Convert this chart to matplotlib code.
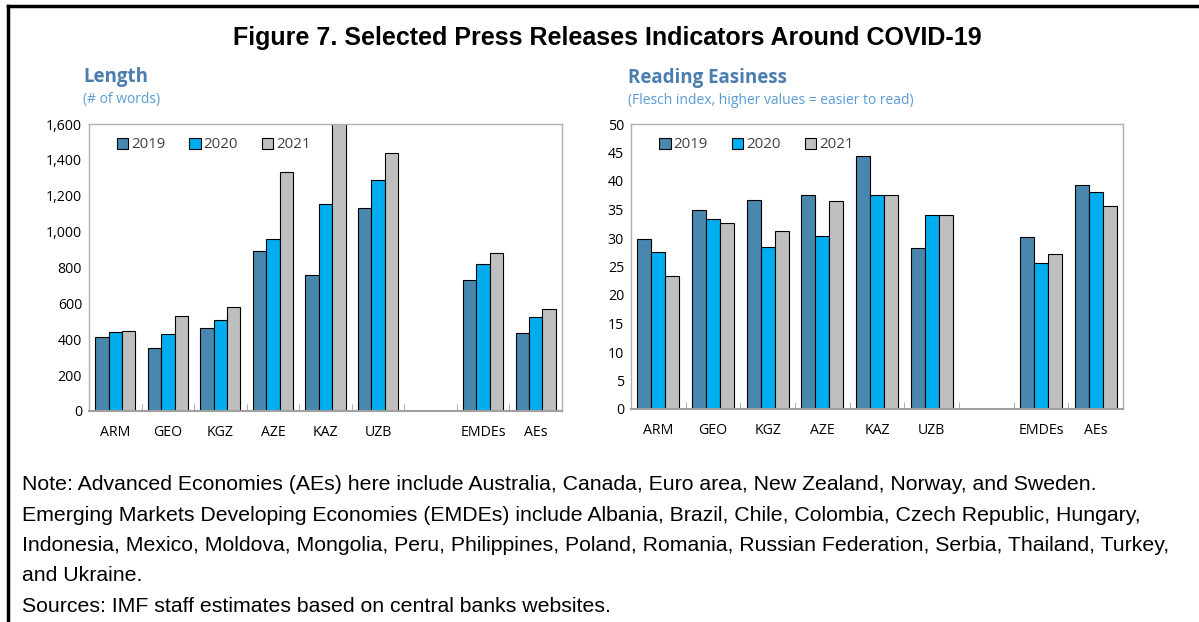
import numpy as np
import matplotlib.pyplot as plt
from matplotlib.lines import Line2D
from matplotlib.ticker import FuncFormatter

# data
categories = ['ARM', 'GEO', 'KGZ', 'AZE', 'KAZ', 'UZB', '', 'EMDEs', 'AEs']
years = ['2019', '2020', '2021']

length_2019 = [412, 351, 460, 894, 757, 1130, np.nan, 732, 434]
length_2020 = [441, 430, 507, 957, 1152, 1289, np.nan, 817, 524]
length_2021 = [445, 529, 579, 1333, 1603, 1436, np.nan, 882, 569]

easiness_2019 = [29.9, 34.9, 36.6, 37.6, 44.3, 28.3, np.nan, 30.2, 39.3]
easiness_2020 = [27.5, 33.4, 28.4, 30.3, 37.6, 34.1, np.nan, 25.7, 38.0]
easiness_2021 = [23.4, 32.6, 31.3, 36.5, 37.5, 34.1, np.nan, 27.2, 35.6]

colors = ['#4A87AE', '#00AEEF', '#BFBFBF']
title_blue = '#4A7EAE'
sub_blue = '#5B9BD5'
chart_font = 'Open Sans'

fig = plt.figure(figsize=(11.99, 6.22), dpi=100)
W, H = 1199, 622


def box(x0, y0, x1, y1):
    # pixel box -> figure fraction
    return [x0 / W, 1 - y1 / H, (x1 - x0) / W, (y1 - y0) / H]


def draw_panel(ax, series, ymax, ystep, fmt):
    x = np.arange(len(categories))
    w = 0.255
    for i, vals in enumerate(series):
        ax.bar(x + (i - 1) * w, vals, w, color=colors[i], edgecolor='black',
               linewidth=0.8, label=years[i], zorder=2)
    ax.set_xlim(-0.5, len(categories) - 0.5)
    ax.set_ylim(0, ymax)
    ax.set_yticks(np.arange(0, ymax + 1, ystep))
    ax.yaxis.set_major_formatter(FuncFormatter(fmt))
    ax.set_xticks(x)
    ax.set_xticklabels(categories)
    ax.set_xticks(np.arange(len(categories) + 1) - 0.5, minor=True)
    ax.tick_params(axis='x', which='major', length=0, pad=10)
    ax.tick_params(axis='x', which='minor', length=5, direction='in',
                   color='#A0A0A0')
    ax.tick_params(axis='y', length=0, pad=5)
    for lab in ax.get_xticklabels() + ax.get_yticklabels():
        lab.set_fontfamily(chart_font)
        lab.set_fontsize(10.2)
    for s in ax.spines.values():
        s.set_color('#B0B0B0')
        s.set_linewidth(1.0)
    ax.spines['bottom'].set_color('#A0A0A0')
    ax.spines['bottom'].set_linewidth(1.5)
    leg = ax.legend(loc='upper left', ncol=3, frameon=False,
                    bbox_to_anchor=(0.03, 1.0), handlelength=0.75,
                    handleheight=0.75, handletextpad=0.2, columnspacing=1.6,
                    prop={'family': chart_font, 'size': 10.8})
    for t in leg.get_texts():
        t.set_color('#404040')


ax1 = fig.add_axes(box(89, 124, 562, 411))
draw_panel(ax1, [length_2019, length_2020, length_2021], 1600, 200,
           lambda v, p: f'{int(v):,}')

ax2 = fig.add_axes(box(631, 124, 1123, 409))
draw_panel(ax2, [easiness_2019, easiness_2020, easiness_2021], 50, 5,
           lambda v, p: f'{int(v)}')

# panel titles
fig.text(83 / W, 1 - 77 / H, 'Length', fontsize=13.5, fontweight='bold',
         color=title_blue, family=chart_font, va='center')
fig.text(83 / W, 1 - 99 / H, '(# of words)', fontsize=10, color=sub_blue,
         family=chart_font, va='center')
fig.text(628 / W, 1 - 78 / H, 'Reading Easiness', fontsize=13.5,
         fontweight='bold', color=title_blue, family=chart_font, va='center')
fig.text(628 / W, 1 - 101 / H, '(Flesch index, higher values = easier to read)',
         fontsize=10, color=sub_blue, family=chart_font, va='center')

fig.text(607 / W, 1 - 38 / H,
         'Figure 7. Selected Press Releases Indicators Around COVID-19',
         ha='center', va='center', fontsize=18, fontweight='bold',
         family='Liberation Sans')

notes = [
    'Note: Advanced Economies (AEs) here include Australia, Canada, Euro area, New Zealand, Norway, and Sweden.',
    'Emerging Markets Developing Economies (EMDEs) include Albania, Brazil, Chile, Colombia, Czech Republic, Hungary,',
    'Indonesia, Mexico, Moldova, Mongolia, Peru, Philippines, Poland, Romania, Russian Federation, Serbia, Thailand, Turkey,',
    'and Ukraine.',
    'Sources: IMF staff estimates based on central banks websites.',
]
for i, line in enumerate(notes):
    fig.text(22 / W, 1 - (485 + i * 30.3) / H, line, fontsize=15.3,
             family='Liberation Sans', va='center')

# frame around the figure (left and top edges)
fig.add_artist(Line2D([8 / W, 8 / W], [0, 1 - 6 / H], color='black',
                      linewidth=2.5, transform=fig.transFigure))
fig.add_artist(Line2D([8 / W, 1], [1 - 6 / H, 1 - 6 / H], color='black',
                      linewidth=2.5, transform=fig.transFigure))

plt.savefig('out.png', dpi=100)
